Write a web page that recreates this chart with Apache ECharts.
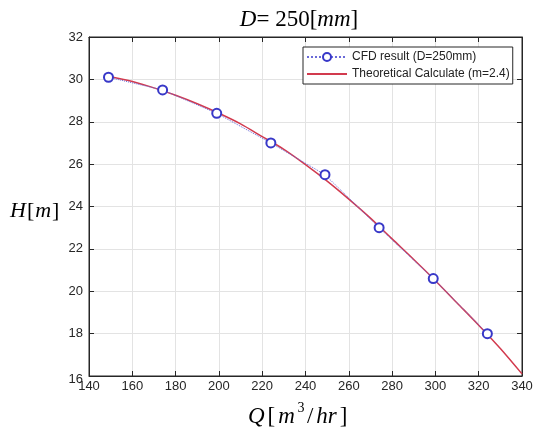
<!DOCTYPE html>
<html>
<head>
<meta charset="utf-8">
<script src="https://cdn.jsdelivr.net/npm/echarts@6/dist/echarts.min.js"></script>
<style>
  html, body { margin: 0; padding: 0; background: #fff; }
  #chart { width: 537px; height: 434px; }
</style>
</head>
<body>
<div id="chart"></div>
<script>
// CFD results for the D = 250 mm impeller
const cfdFlow = [149, 174, 199, 224, 249, 274, 299, 324];
const cfdHead = [30.1, 29.5, 28.4, 27.0, 25.5, 23.0, 20.6, 18.0];

// Theoretical head curve (m = 2.4)
const theoryFlow = [150, 160, 170, 180, 190, 200, 210, 220, 230, 240, 250, 260, 270, 280, 290, 300, 310, 320, 330, 340];
const theoryHead = [30.12, 29.9, 29.6, 29.25, 28.85, 28.4, 27.9, 27.3, 26.7, 25.98, 25.2, 24.35, 23.45, 22.47, 21.5, 20.5, 19.45, 18.4, 17.3, 16.1];

// Axis ranges and tick steps
const xRange = [140, 340], xStep = 20;
const yRange = [16, 32], yStep = 2;

const seriesNames = ['CFD result (D=250mm)', 'Theoretical Calculate (m=2.4)'];

const pair = (xs, ys) => xs.map((x, i) => [x, ys[i]]);

const serif = 'Liberation Serif';
// rich-text styles for math-style labels: italic symbols, upright brackets/numbers
const mathRich = (size, gap) => ({
  i: { fontFamily: serif, fontStyle: 'italic', fontWeight: 'normal', fontSize: size, color: '#000', padding: [0, gap, 0, gap] },
  n: { fontFamily: serif, fontWeight: 'normal', fontSize: size, color: '#000', padding: [0, gap, 0, gap] },
  sup: { fontFamily: serif, fontWeight: 'normal', fontSize: Math.round(size * 0.62), color: '#000', verticalAlign: 'top', padding: [0, 1, Math.round(size * 0.75), 1] }
});

const tickFont = { fontFamily: 'Liberation Sans', fontSize: 13, color: '#262626' };

const chart = echarts.init(document.getElementById('chart'), null, { renderer: 'canvas' });

chart.setOption({
  animation: false,
  backgroundColor: '#fff',
  grid: { left: 89, right: 15, top: 37, bottom: 58, show: true, borderColor: '#262626', borderWidth: 1, backgroundColor: 'transparent' },
  title: {
    text: '{i|D}{n|= 250[}{i|mm}{n|]}',
    left: 294, top: 3, textAlign: 'center',
    textStyle: { fontWeight: 'normal', rich: mathRich(23, 0) }
  },
  legend: {
    orient: 'vertical',
    left: 303, top: 47,
    itemWidth: 40, itemHeight: 10, itemGap: 5,
    padding: [4, 3, 4, 3],
    borderColor: '#262626', borderWidth: 1, backgroundColor: '#fff',
    textStyle: { fontFamily: 'Liberation Sans', fontSize: 12, color: '#222' },
    data: [
      { name: seriesNames[0] },
      { name: seriesNames[1], itemStyle: { opacity: 0 } }
    ]
  },
  xAxis: [{
    type: 'value', min: xRange[0], max: xRange[1], interval: xStep,
    axisLine: { show: true, lineStyle: { color: '#262626' } },
    axisTick: { show: true, inside: true, length: 5, lineStyle: { color: '#262626' } },
    axisLabel: Object.assign({ margin: 4 }, tickFont),
    splitLine: { show: true, lineStyle: { color: '#e3e3e3', width: 1 } }
  }, {
    type: 'value', position: 'top', min: xRange[0], max: xRange[1], interval: xStep,
    axisLine: { show: true, lineStyle: { color: '#262626' } },
    axisTick: { show: true, inside: true, length: 5, lineStyle: { color: '#262626' } },
    axisLabel: { show: false }, splitLine: { show: false }
  }],
  yAxis: [{
    type: 'value', min: yRange[0], max: yRange[1], interval: yStep,
    axisLine: { show: true, lineStyle: { color: '#262626' } },
    axisTick: { show: true, inside: true, length: 5, lineStyle: { color: '#262626' } },
    axisLabel: Object.assign({
      margin: 6,
      formatter: (v) => v === yRange[0] ? '{low|' + v + '}' : String(v),
      rich: { low: Object.assign({ padding: [7, 0, 0, 0] }, tickFont) }
    }, tickFont),
    splitLine: { show: true, lineStyle: { color: '#e3e3e3', width: 1 } }
  }, {
    type: 'value', position: 'right', min: yRange[0], max: yRange[1], interval: yStep,
    axisLine: { show: true, lineStyle: { color: '#262626' } },
    axisTick: { show: true, inside: true, length: 5, lineStyle: { color: '#262626' } },
    axisLabel: { show: false }, splitLine: { show: false }
  }],
  graphic: [{
    type: 'text', left: 10, top: 200,
    style: { text: '{i|H}{n|[}{i|m}{n|]}', rich: mathRich(22, 0.5) }
  }, {
    type: 'text', left: 248, top: 401,
    style: { text: '{i|Q}{n|[}{i|m}{sup|3}{n|/}{i|hr}{n|]}', rich: mathRich(23, 1.5) }
  }],
  series: [{
    name: seriesNames[0],
    type: 'line',
    data: pair(cfdFlow, cfdHead),
    symbol: 'emptyCircle', symbolSize: 9,
    lineStyle: { type: 'dotted', color: '#6a6ad8', width: 1 },
    itemStyle: { color: '#3838c8', borderColor: '#3838c8', borderWidth: 1.5 },
    z: 3
  }, {
    name: seriesNames[1],
    type: 'line',
    data: pair(theoryFlow, theoryHead),
    smooth: 0.3,
    showSymbol: false, symbol: 'none',
    lineStyle: { color: '#d23a4e', width: 1.5 },
    itemStyle: { color: '#d23a4e' },
    z: 2
  }]
});
</script>
</body>
</html>
